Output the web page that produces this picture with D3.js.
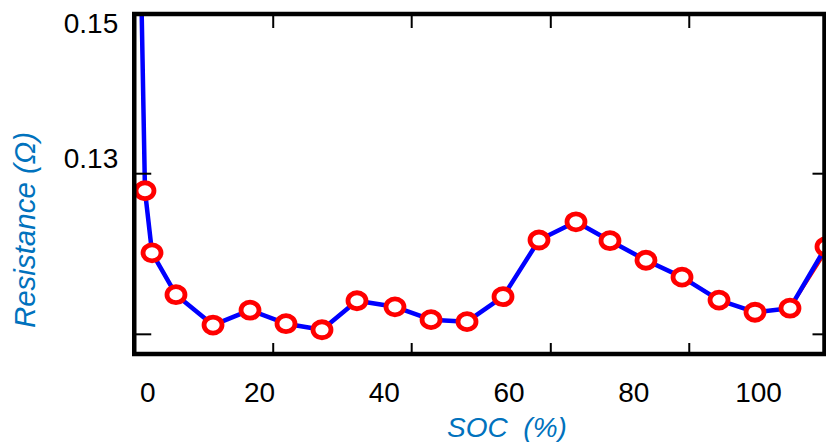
<!DOCTYPE html>
<html>
<head>
<meta charset="utf-8">
<script src="https://cdn.jsdelivr.net/npm/d3@7"></script>
<style>
  html, body { margin: 0; padding: 0; background: #fff; }
  svg { display: block; font-family: "Liberation Sans", Arial, sans-serif; }
</style>
</head>
<body>
<svg id="chart" width="826" height="442"></svg>
<script>
// ---- data ----
const soc = [0, 1.72, 2.85, 6.69, 12.63, 18.56, 24.33, 30.10, 35.71, 41.80, 47.58,
             53.35, 59.12, 64.89, 70.82, 76.27, 82.04, 87.82, 93.75, 99.52, 105.13, 110.90];
const resistance = [0.2107, 0.1250, 0.1158, 0.1096, 0.1051, 0.1073, 0.1053, 0.1044, 0.1087, 0.1078, 0.1059,
                    0.1056, 0.1093, 0.1177, 0.1204, 0.1176, 0.1147, 0.1122, 0.1088, 0.1070, 0.1076, 0.1167];
const resistanceRed = [0.2107, 0.1250, 0.1158, 0.1096, 0.1051, 0.1073, 0.1053, 0.1044, 0.1087, 0.1078, 0.1059,
                       0.1056, 0.1093, 0.1177, 0.1204, 0.1176, 0.1147, 0.1122, 0.1088, 0.1070, 0.1076, 0.1160];
const xTickLabels = [0, 20, 40, 60, 80, 100];
const xTickMarks = [22.2, 44.4, 66.7, 88.9];
const yTickLabels = [0.15, 0.13];
const yTickMarks = [0.1276, 0.1038];

// ---- layout ----
const mLeft = 134.25, mRight = 824.5, mTop = 14, mBottom = 354;
const svg = d3.select("#chart");
svg.append("rect").attr("width", 826).attr("height", 442).attr("fill", "#fff");

const x = d3.scaleLinear().domain([0, 110.6]).range([mLeft, mLeft + 110.6 * 6.2375]);
const y = d3.scaleLinear().domain([0.10081, 0.15119]).range([mBottom, mTop]);

svg.append("defs").append("clipPath").attr("id", "plotclip")
  .append("rect").attr("x", mLeft).attr("y", mTop).attr("width", mRight - mLeft).attr("height", mBottom - mTop);

// lines
const line = d3.line().x((d, i) => x(soc[i])).y(d => y(d));
const g = svg.append("g").attr("clip-path", "url(#plotclip)");
g.append("path").datum(resistanceRed).attr("d", line)
  .attr("fill", "none").attr("stroke", "#ff0000").attr("stroke-width", 3).attr("stroke-linejoin", "round");
g.append("path").datum(resistance).attr("d", line)
  .attr("fill", "none").attr("stroke", "#0000ff").attr("stroke-width", 4.5).attr("stroke-linejoin", "round");

// markers
svg.append("g").selectAll("ellipse").data(resistance).join("ellipse")
  .attr("cx", (d, i) => x(soc[i])).attr("cy", d => y(d))
  .attr("rx", 9).attr("ry", 8)
  .attr("fill", "#fff").attr("stroke", "#ff0000").attr("stroke-width", 4.8);

// tick marks (inner)
const tickStyle = sel => {
  sel.select(".domain").remove();
  sel.selectAll(".tick line").attr("stroke", "#000").attr("stroke-width", 2);
};
svg.append("g").attr("transform", `translate(0,${mBottom})`)
  .call(d3.axisBottom(x).tickValues(xTickMarks).tickSize(-11).tickFormat(""))
  .call(tickStyle);
svg.append("g").attr("transform", `translate(0,${mTop})`)
  .call(d3.axisTop(x).tickValues(xTickMarks).tickSize(-14).tickFormat(""))
  .call(tickStyle);
svg.append("g").attr("transform", `translate(${mLeft},0)`)
  .call(d3.axisLeft(y).tickValues(yTickMarks).tickSize(-17).tickFormat(""))
  .call(tickStyle);
svg.append("g").attr("transform", `translate(${mRight},0)`)
  .call(d3.axisRight(y).tickValues(yTickMarks).tickSize(-12).tickFormat(""))
  .call(tickStyle);

// tick labels
const xl = svg.append("g").attr("transform", `translate(0,${mBottom})`)
  .call(d3.axisBottom(x).tickValues(xTickLabels).tickSize(0).tickPadding(28).tickFormat(d3.format("d")));
xl.select(".domain").remove();
xl.selectAll("text").attr("font-size", 28).attr("fill", "#000")
  .attr("font-family", "Liberation Sans, Arial, sans-serif")
  .attr("dx", d => d === 0 ? 13 : 0);

const yl = svg.append("g").attr("transform", `translate(${mLeft},0)`)
  .call(d3.axisLeft(y).tickValues(yTickLabels).tickSize(0).tickPadding(16).tickFormat(d3.format(".2f")));
yl.select(".domain").remove();
yl.selectAll("text").attr("font-size", 28).attr("fill", "#000")
  .attr("font-family", "Liberation Sans, Arial, sans-serif")
  .attr("dy", "0.36em");

// frame
svg.append("rect").attr("x", mLeft).attr("y", mTop)
  .attr("width", mRight - mLeft).attr("height", mBottom - mTop)
  .attr("fill", "none").attr("stroke", "#000").attr("stroke-width", 4.5);

// axis titles
svg.append("text").attr("x", 507).attr("y", 437).attr("text-anchor", "middle")
  .attr("font-size", 28).attr("font-style", "italic").attr("fill", "#0072bd")
  .style("white-space", "pre")
  .text("SOC  (%)");
svg.append("text").attr("transform", "translate(35,230) rotate(-90)").attr("text-anchor", "middle")
  .attr("font-size", 29.5).attr("font-style", "italic").attr("fill", "#0072bd")
  .text("Resistance (Ω)");
</script>
</body>
</html>
